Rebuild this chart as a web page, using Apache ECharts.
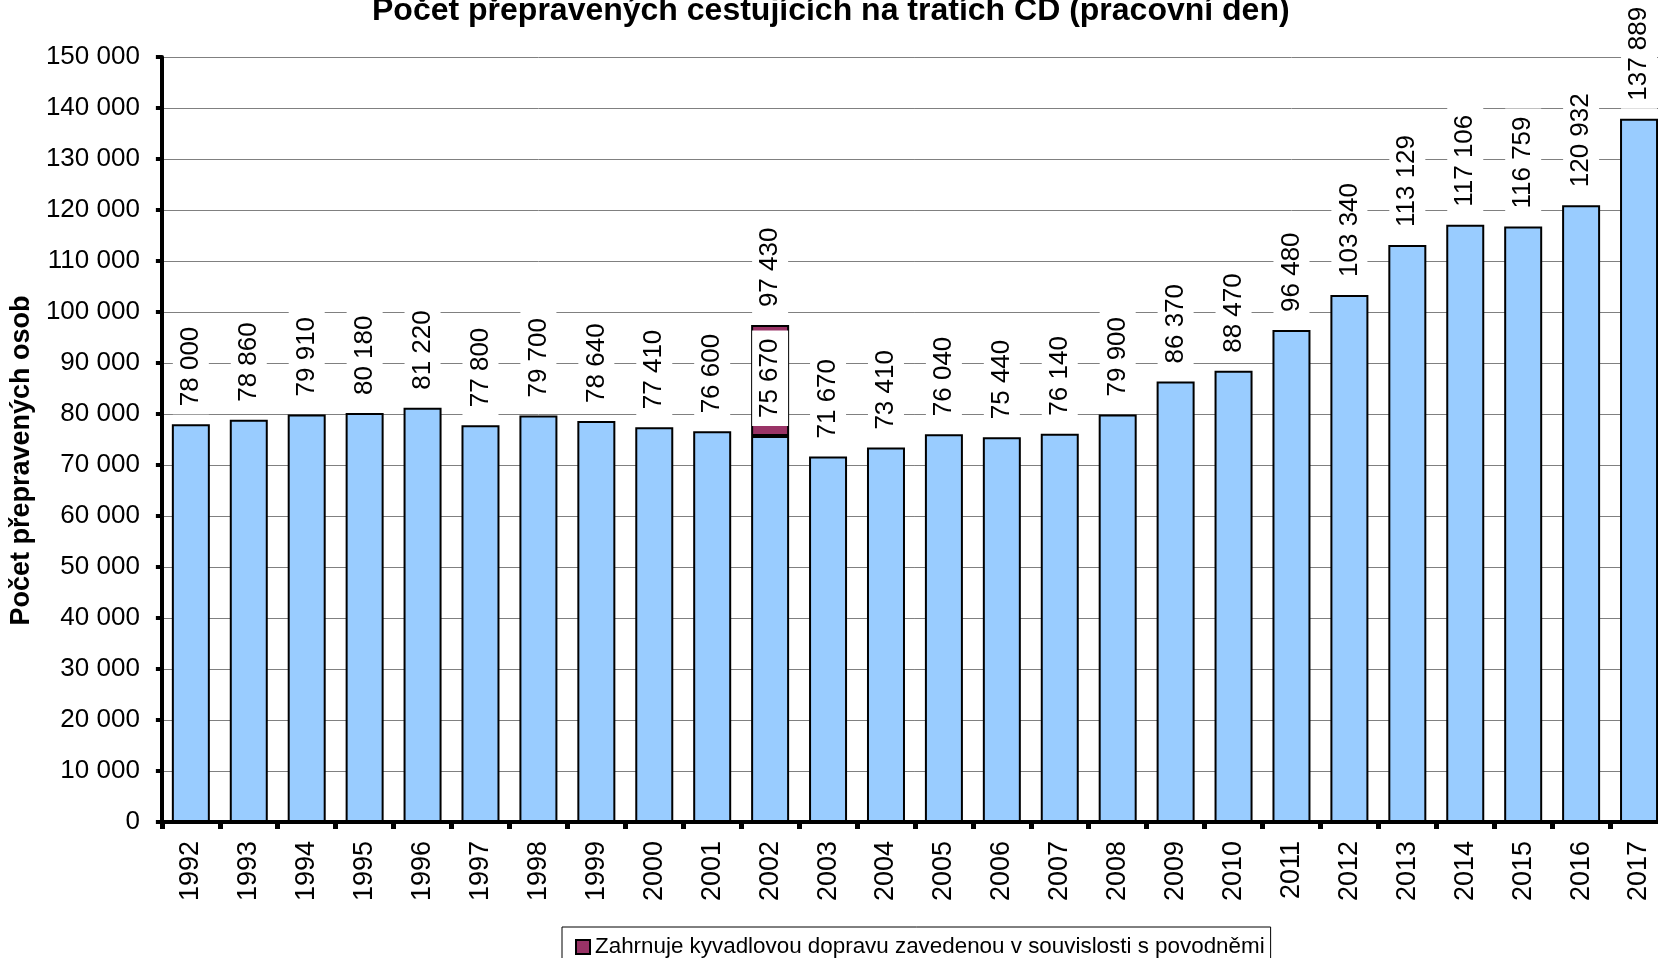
<!DOCTYPE html>
<html>
<head>
<meta charset="utf-8">
<script src="https://cdn.jsdelivr.net/npm/echarts@6/dist/echarts.min.js"></script>
<style>
html,body{margin:0;padding:0;background:#fff;overflow:hidden;width:1658px;height:958px;}
#chart{width:1668px;height:958px;}
</style>
</head>
<body>
<div id="chart"></div>
<script>
const titleText = 'Počet přepravených cestujících na tratích ČD (pracovní den)';
const yAxisTitle = 'Počet přepravených osob';
const legendText = 'Zahrnuje kyvadlovou dopravu zavedenou v souvislosti s povodněmi';
const years = ['1992','1993','1994','1995','1996','1997','1998','1999','2000','2001','2002','2003','2004','2005','2006','2007','2008','2009','2010','2011','2012','2013','2014','2015','2016','2017'];
const passengers = [78000,78860,79910,80180,81220,77800,79700,78640,77410,76600,75670,71670,73410,76040,75440,76140,79900,86370,88470,96480,103340,113129,117106,116759,120932,137889];
const floodExtra = ['-','-','-','-','-','-','-','-','-','-',21760,'-','-','-','-','-','-','-','-','-','-','-','-','-','-','-'];
const yMin = 0, yMax = 150000, yStep = 10000;

const FONT = '"Liberation Sans", Arial, Helvetica, sans-serif';
const fmt = v => String(v).replace(/\B(?=(\d{3})+(?!\d))/g, ' ');

const labelStyle = {
  show: true,
  position: 'top',
  rotate: 90,
  align: 'left',
  verticalAlign: 'middle',
  distance: 10,
  fontSize: 26,
  lineHeight: 26,
  fontFamily: FONT,
  color: '#000',
  backgroundColor: '#fff',
  padding: [5, 8, 5, 8]
};

const chart = echarts.init(document.getElementById('chart'), null, {renderer: 'canvas'});
chart.setOption({
  backgroundColor: '#fff',
  animation: false,
  title: {
    text: titleText,
    left: 367,
    top: -10,
    textStyle: {fontSize: 32, fontWeight: 'bold', fontFamily: FONT, color: '#000'}
  },
  grid: {left: 160, top: 57, right: 0, bottom: 136, containLabel: false},
  legend: {
    data: [legendText],
    left: 562,
    top: 927,
    orient: 'horizontal',
    borderColor: '#000',
    borderWidth: 1,
    padding: [9, 6, 9, 13],
    itemWidth: 14,
    itemHeight: 14,
    icon: 'rect',
    textStyle: {fontSize: 22.4, fontFamily: FONT, color: '#000'}
  },
  xAxis: {
    type: 'category',
    data: years,
    boundaryGap: true,
    axisLine: {lineStyle: {color: '#000', width: 4}},
    axisTick: {show: true, length: 7, lineStyle: {color: '#000', width: 5}},
    axisLabel: {rotate: 90, fontSize: 27, margin: 19, color: '#000', fontFamily: FONT},
    splitLine: {show: false}
  },
  yAxis: {
    type: 'value',
    min: yMin,
    max: yMax,
    interval: yStep,
    name: yAxisTitle,
    nameLocation: 'middle',
    nameGap: 118,
    nameTextStyle: {fontSize: 27, fontWeight: 'bold', fontFamily: FONT, color: '#000', padding: [0, 42, 0, 0]},
    axisLine: {show: true, lineStyle: {color: '#000', width: 4}},
    axisTick: {show: true, length: 6, lineStyle: {color: '#000', width: 4}},
    axisLabel: {fontSize: 26, margin: 22, color: '#000', fontFamily: FONT, formatter: v => fmt(v)},
    splitLine: {show: true, lineStyle: {color: '#808080', width: 1}}
  },
  series: [
    {
      name: 'Počet',
      type: 'bar',
      stack: 'total',
      z: 3,
      barWidth: 38,
      data: passengers,
      itemStyle: {color: '#99CCFF', borderColor: '#000', borderWidth: 2},
      label: Object.assign({}, labelStyle, {formatter: p => fmt(p.value)})
    },
    {
      name: legendText,
      type: 'bar',
      stack: 'total',
      z: 2,
      barWidth: 38,
      data: floodExtra,
      itemStyle: {color: '#993366', borderColor: '#000', borderWidth: 2},
      label: Object.assign({}, labelStyle, {
        formatter: p => fmt(passengers[p.dataIndex] + p.value)
      })
    }
  ]
});
</script>
</body>
</html>
